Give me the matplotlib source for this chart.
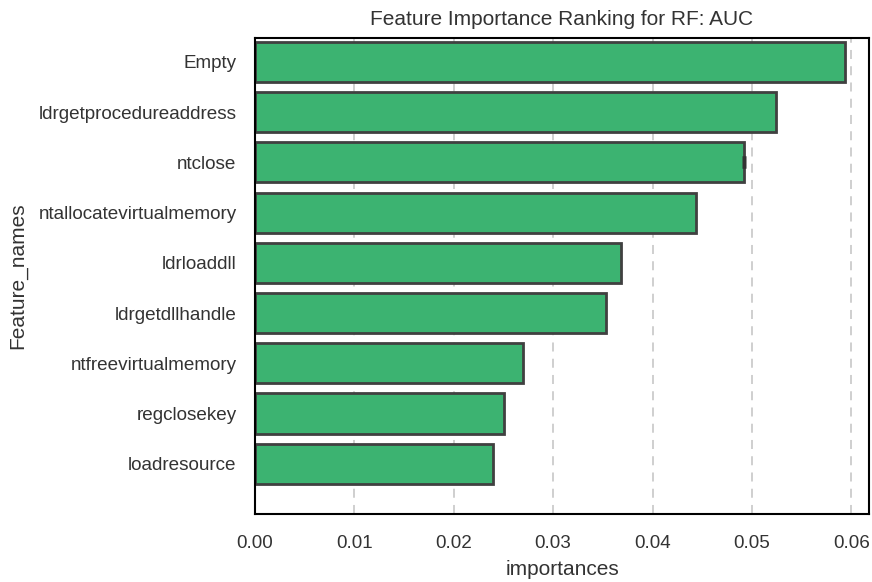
import matplotlib
matplotlib.use("Agg")
import matplotlib.pyplot as plt
import seaborn as sns
import pandas as pd

features = ["Empty", "ldrgetprocedureaddress", "ntclose", "ntallocatevirtualmemory",
            "ldrloaddll", "ldrgetdllhandle", "ntfreevirtualmemory", "regclosekey",
            "loadresource"]
importances = [0.0593, 0.0524, 0.0492, 0.0444, 0.0368, 0.0353, 0.0270, 0.0251, 0.0240]
errors = [0.0, 0.0, 0.00016, 0.0, 0.0, 0.0, 0.0, 0.0, 0.0]

sns.set_theme(style="white")
plt.rcParams["font.family"] = ["Liberation Sans", "DejaVu Sans"]

df = pd.DataFrame({"Feature_names": features, "importances": importances, "err": errors})

fig = plt.figure(figsize=(8.72, 5.82), dpi=100)
ax = fig.add_axes([0.292, 0.117, 0.705, 0.818])

ax.barh(df["Feature_names"], df["importances"], height=0.8,
        color="#3cb371", edgecolor="#404040", linewidth=2, zorder=2)
# only ntclose had a visible spread across folds
for i, (v, e) in enumerate(zip(df["importances"], df["err"])):
    if e > 0:
        ax.plot([v - e, v + e], [i, i], color="#333333", linewidth=9,
                solid_capstyle="butt", zorder=3)

ax.set_xlim(0, 0.0618)
ax.set_ylim(9.0, -0.48)
ax.set_xticks([0.00, 0.01, 0.02, 0.03, 0.04, 0.05, 0.06])
ax.set_xticklabels(["0.00", "0.01", "0.02", "0.03", "0.04", "0.05", "0.06"])
ax.xaxis.grid(True, linestyle=(0, (5, 4)), color="#cccccc", linewidth=1.3, zorder=0)
ax.set_axisbelow(True)
ax.tick_params(axis="both", labelsize=13.6, colors="#333333", length=0, pad=13)
ax.tick_params(axis="x", pad=15)
for s in ax.spines.values():
    s.set_color("black")
    s.set_linewidth(1.5)

ax.set_xlabel("importances", fontsize=15, color="#333333", labelpad=6)
ax.set_ylabel("Feature_names", fontsize=15, color="#333333", labelpad=8)
ax.set_title("Feature Importance Ranking for RF: AUC", fontsize=15, color="#333333", pad=9)

fig.savefig("out.png", dpi=100)
